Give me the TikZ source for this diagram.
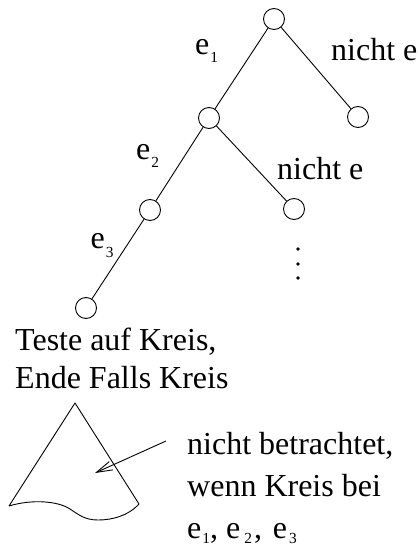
\documentclass[tikz,border=0pt]{standalone}
\usepackage{fontspec}
\setmainfont{Liberation Serif}
\usetikzlibrary{positioning,calc}
\usetikzlibrary{arrows.meta}
\newcommand{\lsub}[2][8pt]{\hspace{1pt}\raisebox{-#1}{\fontsize{15.4}{15.4}\selectfont #2}}
\tikzset{
  v/.style={circle,draw=black,fill=white,line width=0.9pt,inner sep=0pt,minimum size=21pt},
  edge/.style={draw=black,line width=0.9pt},
  lab/.style={anchor=base west,inner sep=0pt,font=\fontsize{32}{32}\selectfont},
  dot/.style={circle,fill=black,inner sep=0pt,minimum size=3.6pt},
}
\begin{document}
\begin{tikzpicture}[x=1pt,y=-1pt]
\useasboundingbox (0,0) rectangle (417,545);
% search tree
\node[v] (n1) at (274,19) {};
\node[v] (n2) at (209,118) {};
\node[v] (n3) at (358,117) {};
\node[v] (n4) at (150,210) {};
\node[v] (n5) at (294,209) {};
\node[v] (n6) at (86,308) {};
\draw[edge] (n1) -- (n2);
\draw[edge] (n1) -- (n3);
\draw[edge] (n2) -- (n4);
\draw[edge] (n2) -- (n5);
\draw[edge] (n4) -- (n6);
\node[dot] (d1) at (298,249) {};
\node[dot] (d2) at (298,264) {};
\node[dot] (d3) at (298,278) {};
% edge labels
\node[lab] (e1) at (195,55) {e\lsub{1}};
\node[lab] (ne1) at (331,61) {nicht e};
\node[lab] (e2) at (136,160) {e\lsub{2}};
\node[lab] (ne2) at (277,180) {nicht e};
\node[lab] (e3) at (90.5,248) {e\lsub[9pt]{3}};
% text under the tree
\node[lab] (t1) at (15,350) {Teste auf Kreis,};
\node[lab] (t2) at (15,388) {Ende Falls Kreis};
% pruned subtree
\coordinate (apex) at (75,403);
\coordinate (left) at (9,506);
\coordinate (right) at (139,504);
\draw[edge,line join=round] (left) -- (apex) -- (right)
  .. controls (128,516) and (112,520) .. (98,520)
  .. controls (84,520) and (78,514) .. (70,509)
  .. controls (58,501) and (32,499) .. (left);
\coordinate (from) at (166,441);
\coordinate (to) at (95,473);
\draw[edge,-{Straight Barb[length=16pt,width=9pt]}] (from) -- (to);
\node[lab] (t3) at (187,454) {nicht betrachtet,};
\node[lab] (t4) at (187,496) {wenn Kreis bei};
\node[lab] (t5) at (187,538) {e\lsub[5pt]{1},\hspace{8pt}e\hspace{3pt}\lsub[5pt]{2}\hspace{2pt},\hspace{11pt}e\hspace{1pt}\lsub[5pt]{3}};
\end{tikzpicture}
\end{document}
